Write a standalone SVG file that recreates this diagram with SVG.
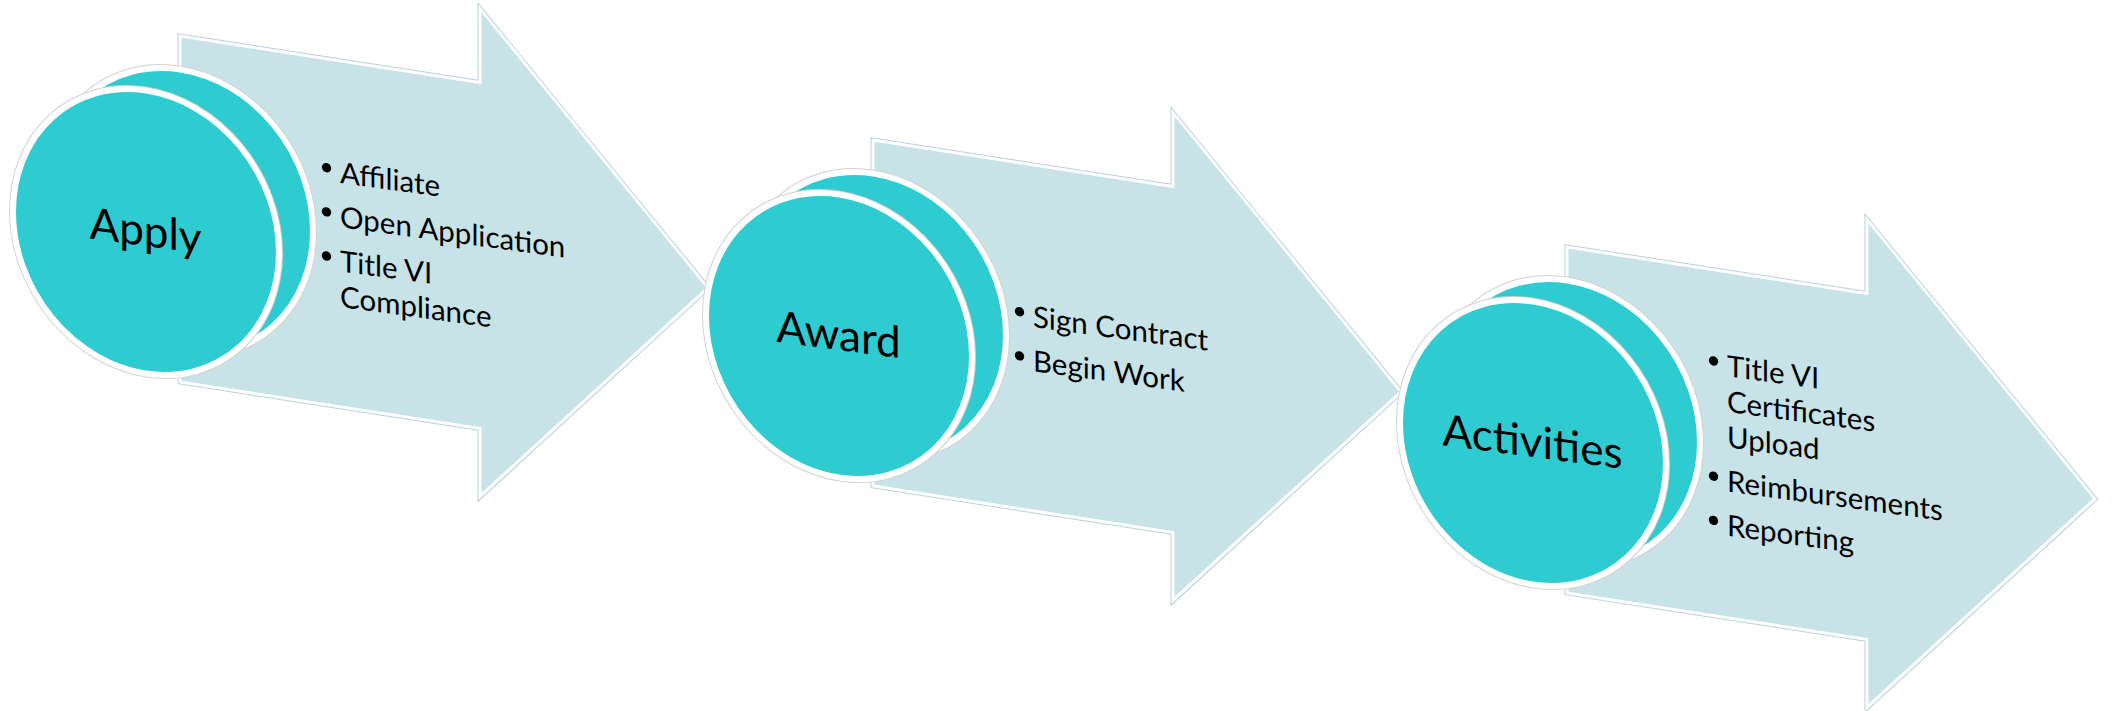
<svg xmlns="http://www.w3.org/2000/svg" width="2118" height="711" viewBox="0 0 2118 711">
<style>
.arrow-edge{fill:none;stroke:#b7d3d7;stroke-width:5;stroke-linejoin:miter}
.arrow{fill:#C8E3E7;stroke:#ffffff;stroke-width:3;stroke-linejoin:miter}
.disc-edge{fill:none;stroke:#d2d2d2;stroke-width:8}
.disc{fill:#2ECBD0;stroke:#ffffff;stroke-width:6}
.title{font-family:Lato,"Open Sans","DejaVu Sans",sans-serif;font-size:44px;fill:#000;text-anchor:middle}
.item{font-family:Lato,"Open Sans","DejaVu Sans",sans-serif;font-size:29.5px;fill:#000}
.dot{fill:#000}
</style>
<rect x="0" y="0" width="2118" height="711" fill="#ffffff"/>

<g id="step-apply">
  <g transform="translate(180,36) skewY(8.81)">
    <polygon class="arrow-edge" points="0,0 300,0 300,-74 528,170 300,414 300,346 0,346"/>
    <polygon class="arrow" points="0,0 300,0 300,-74 528,170 300,414 300,346 0,346"/>
    <ellipse class="disc-edge" cx="0" cy="175" rx="133" ry="141.5"/>
    <ellipse class="disc" cx="0" cy="175" rx="133" ry="141.5"/>
    <ellipse class="disc-edge" cx="-34" cy="201.3" rx="133" ry="141.5"/>
    <ellipse class="disc" cx="-34" cy="201.3" rx="133" ry="141.5"/>
  </g>
  <g transform="translate(145.5,246) skewY(7.5)">
    <text class="title" x="0" y="0">Apply</text>
  </g>
  <g transform="translate(340,183) skewY(7.7)">
    <circle class="dot" cx="-13.5" cy="-13.5" r="4.7"/>
    <text class="item" x="0" y="0">Affiliate</text>
    <circle class="dot" cx="-13.5" cy="30.7" r="4.7"/>
    <text class="item" x="0" y="44.2">Open Application</text>
    <circle class="dot" cx="-13.5" cy="74.9" r="4.7"/>
    <text class="item" x="0" y="88.4">Title VI</text>
    <text class="item" x="0" y="123.9">Compliance</text>
  </g>
</g>

<g id="step-award">
  <g transform="translate(873,140) skewY(8.81)">
    <polygon class="arrow-edge" points="0,0 300,0 300,-74 528,170 300,414 300,346 0,346"/>
    <polygon class="arrow" points="0,0 300,0 300,-74 528,170 300,414 300,346 0,346"/>
    <ellipse class="disc-edge" cx="0" cy="175" rx="133" ry="141.5"/>
    <ellipse class="disc" cx="0" cy="175" rx="133" ry="141.5"/>
    <ellipse class="disc-edge" cx="-34" cy="201.3" rx="133" ry="141.5"/>
    <ellipse class="disc" cx="-34" cy="201.3" rx="133" ry="141.5"/>
  </g>
  <g transform="translate(838.5,350) skewY(7.5)">
    <text class="title" x="0" y="0">Award</text>
  </g>
  <g transform="translate(1033,327) skewY(7.7)">
    <circle class="dot" cx="-13.5" cy="-13.5" r="4.7"/>
    <text class="item" x="0" y="0">Sign Contract</text>
    <circle class="dot" cx="-13.5" cy="30.7" r="4.7"/>
    <text class="item" x="0" y="44.2">Begin Work</text>
  </g>
</g>

<g id="step-activities">
  <g transform="translate(1567,247) skewY(8.81)">
    <polygon class="arrow-edge" points="0,0 300,0 300,-74 528,170 300,414 300,346 0,346"/>
    <polygon class="arrow" points="0,0 300,0 300,-74 528,170 300,414 300,346 0,346"/>
    <ellipse class="disc-edge" cx="0" cy="175" rx="133" ry="141.5"/>
    <ellipse class="disc" cx="0" cy="175" rx="133" ry="141.5"/>
    <ellipse class="disc-edge" cx="-34" cy="201.3" rx="133" ry="141.5"/>
    <ellipse class="disc" cx="-34" cy="201.3" rx="133" ry="141.5"/>
  </g>
  <g transform="translate(1532.5,457) skewY(7.5)">
    <text class="title" x="0" y="0">Activities</text>
  </g>
  <g transform="translate(1727,376.3) skewY(7.7)">
    <circle class="dot" cx="-13.5" cy="-13.5" r="4.7"/>
    <text class="item" x="0" y="0">Title VI</text>
    <text class="item" x="0" y="35.5">Certificates</text>
    <text class="item" x="0" y="71">Upload</text>
    <circle class="dot" cx="-13.5" cy="101.7" r="4.7"/>
    <text class="item" x="0" y="115.2">Reimbursements</text>
    <circle class="dot" cx="-13.5" cy="145.9" r="4.7"/>
    <text class="item" x="0" y="159.4">Reporting</text>
  </g>
</g>
</svg>
